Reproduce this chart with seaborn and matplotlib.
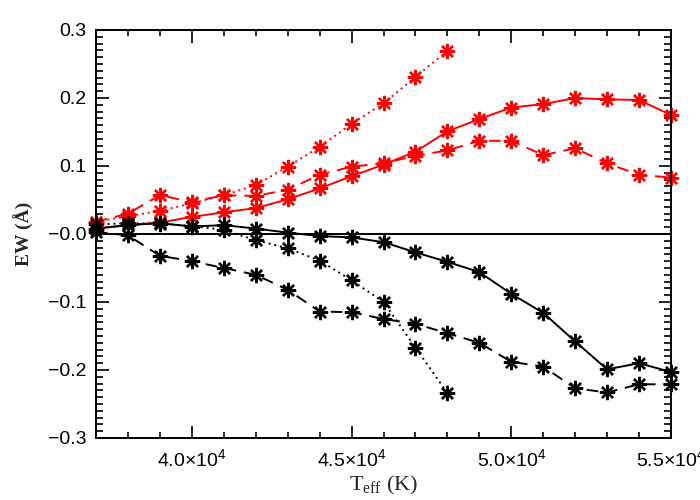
import matplotlib
matplotlib.use("Agg")
import matplotlib.pyplot as plt
import seaborn as sns
import numpy as np
from matplotlib.ticker import MultipleLocator, FixedLocator

sns.set_theme(style="white")
plt.rcParams['font.family'] = ['Liberation Sans', 'DejaVu Sans']
plt.rcParams['mathtext.fontset'] = 'custom'
plt.rcParams['mathtext.rm'] = 'Liberation Serif'

# ---- data ----
teff_full = [37000, 38000, 39000, 40000, 41000, 42000, 43000, 44000, 45000,
             46000, 47000, 48000, 49000, 50000, 51000, 52000, 53000, 54000, 55000]
teff_short = [37000, 38000, 39000, 40000, 41000, 42000, 43000, 44000, 45000,
              46000, 47000, 48000]

red_solid = [0.008, 0.013, 0.017, 0.025, 0.032, 0.038, 0.051, 0.067, 0.085,
             0.102, 0.121, 0.151, 0.169, 0.186, 0.191, 0.200, 0.198, 0.197, 0.175]
red_dashed = [0.018, 0.030, 0.057, 0.047, 0.057, 0.056, 0.065, 0.087, 0.099,
              0.104, 0.115, 0.123, 0.137, 0.137, 0.116, 0.126, 0.104, 0.087, 0.083]
red_dotted = [0.018, 0.026, 0.034, 0.045, 0.057, 0.072, 0.099, 0.128, 0.162,
              0.192, 0.231, 0.269]

black_solid = [0.008, 0.013, 0.016, 0.011, 0.013, 0.008, 0.002, -0.003, -0.005,
               -0.012, -0.027, -0.041, -0.056, -0.088, -0.116, -0.158, -0.199, -0.190, -0.203]
black_dashed = [0.003, -0.002, -0.032, -0.040, -0.050, -0.060, -0.082, -0.114, -0.115,
                -0.125, -0.132, -0.146, -0.160, -0.188, -0.195, -0.227, -0.233, -0.221, -0.221]
black_dotted = [0.014, 0.016, 0.015, 0.012, 0.006, -0.009, -0.021, -0.039, -0.068,
                -0.100, -0.167, -0.234]

xtick_vals = [40000, 45000, 50000, 55000]
xtick_labels = [r'$\mathregular{4.0{\times}10^{4}}$', r'$\mathregular{4.5{\times}10^{4}}$',
                r'$\mathregular{5.0{\times}10^{4}}$', r'$\mathregular{5.5{\times}10^{4}}$']
ytick_vals = [-0.3, -0.2, -0.1, 0.0, 0.1, 0.2, 0.3]
ytick_labels = ['\u22120.3', '\u22120.2', '\u22120.1', '\u22120.0', '0.1', '0.2', '0.3']

# ---- figure ----
fig = plt.figure(figsize=(7, 5), dpi=100)
ax = fig.add_axes([96/700, 62/500, 575/700, 408/500])

ast = (8, 2, 0)
dotted = (0, (1, 2))
dashed = (0, (6, 4))
series = [
    (teff_full, red_solid, 'red', '-'),
    (teff_full, red_dashed, 'red', dashed),
    (teff_short, red_dotted, 'red', dotted),
    (teff_full, black_solid, 'black', '-'),
    (teff_full, black_dashed, 'black', dashed),
    (teff_short, black_dotted, 'black', dotted),
]
for xs, ys, col, ls in series:
    sns.lineplot(x=xs, y=ys, ax=ax, color=col, linestyle=ls, linewidth=1.4,
                 marker=ast, markersize=11, markeredgewidth=1.7,
                 markeredgecolor=col, markerfacecolor=col, sort=False,
                 estimator=None, errorbar=None, clip_on=False)

ax.axhline(0.0, color='black', linewidth=1.4, zorder=1)

ax.set_xlim(37000, 55000)
ax.set_ylim(-0.3, 0.3)

ax.xaxis.set_major_locator(FixedLocator(xtick_vals))
ax.set_xticklabels(xtick_labels)
ax.xaxis.set_minor_locator(MultipleLocator(1000))
ax.yaxis.set_major_locator(FixedLocator(ytick_vals))
ax.set_yticklabels(ytick_labels)
ax.yaxis.set_minor_locator(MultipleLocator(0.01))

ax.tick_params(which='both', direction='in', top=True, right=True,
               bottom=True, left=True, colors='black', width=1.2)
ax.tick_params(which='major', length=9, labelsize=14, pad=7)
ax.tick_params(which='minor', length=4.5)
ax.tick_params(axis='y', which='minor', length=5)

for sp in ax.spines.values():
    sp.set_color('black')
    sp.set_linewidth(1.4)

ax.set_xlabel(r'$\mathregular{T_{eff}}$ (K)', family=['Liberation Serif'],
              fontsize=16, labelpad=3)
ax.set_ylabel('EW (Å)', family=['Liberation Serif'], fontweight='bold',
              fontsize=14, labelpad=10)

fig.savefig('out.png', dpi=100)
